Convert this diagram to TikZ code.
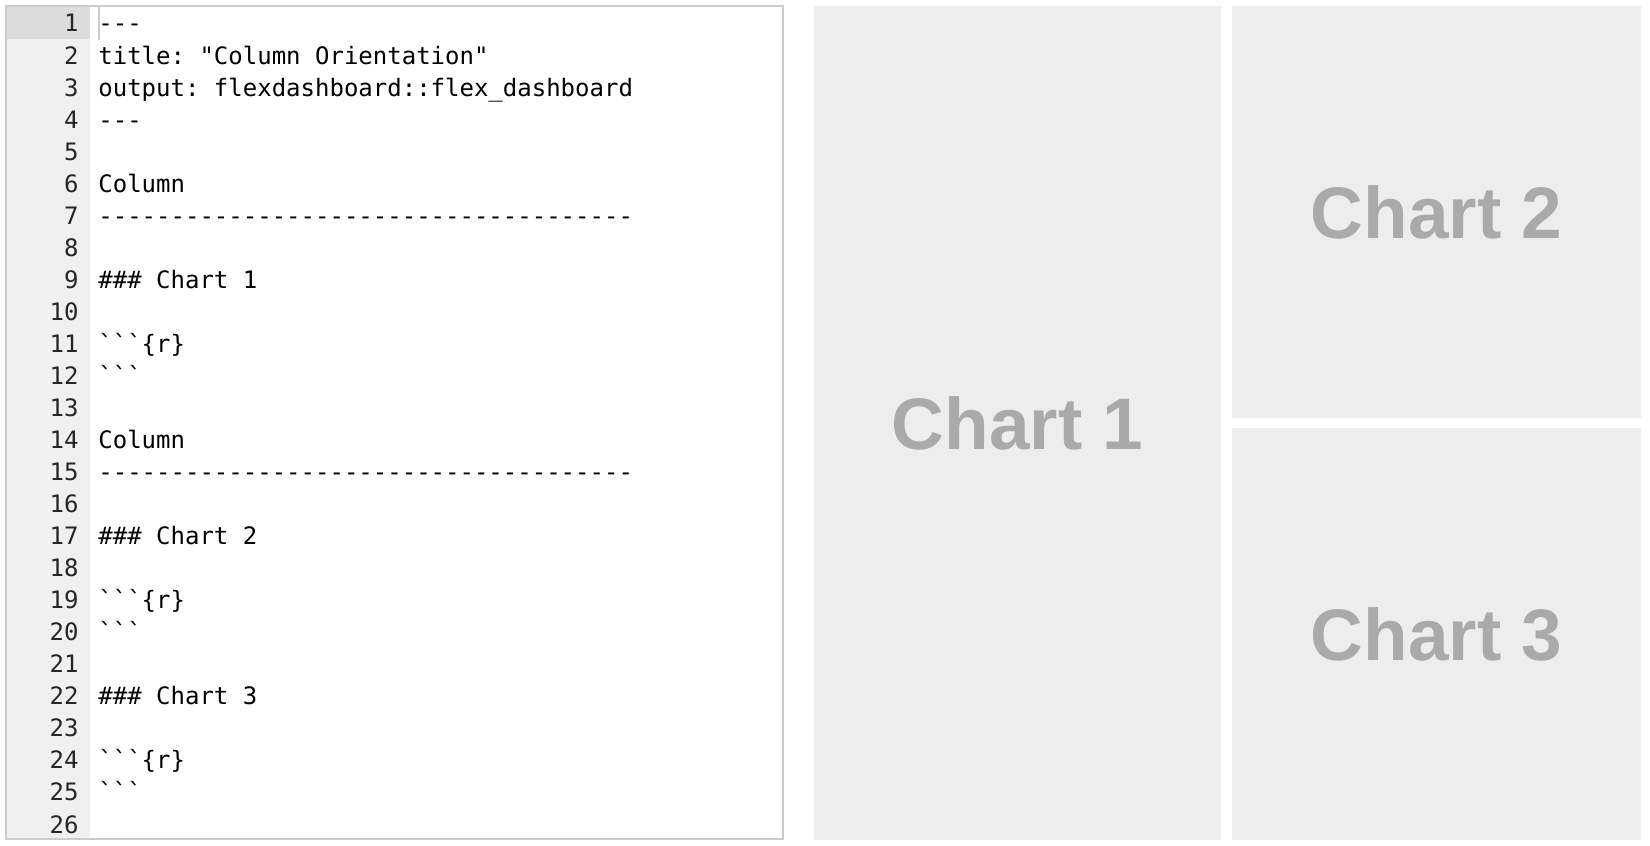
\documentclass[tikz,border=0pt]{standalone}
\usepackage{fontspec}
\setmainfont{Liberation Sans}
\setmonofont{DejaVu Sans Mono}

\definecolor{panelgray}{HTML}{EDEDED}
\definecolor{labelgray}{HTML}{AAAAAA}
\definecolor{framegray}{HTML}{CCCCCC}
\definecolor{guttergray}{HTML}{F0F0F0}
\definecolor{activegray}{HTML}{DCDCDC}

\begin{document}
\begin{tikzpicture}[x=0.5pt, y=-0.5pt,
	codeline/.style={anchor=base west, inner sep=0pt, text=black, font=\ttfamily\fontsize{12}{14}\selectfont},
	lineno/.style={anchor=base east, inner sep=0pt, text=black!85, font=\ttfamily\fontsize{12}{14}\selectfont},
	panel/.style={rectangle, fill=panelgray, inner sep=0pt, text=labelgray, font=\bfseries\fontsize{36.5}{40}\selectfont}]

		\useasboundingbox (0,0) rectangle (1650,846);

		% editor
		\fill[guttergray] (7,7) rectangle (90,838);
		\fill[activegray] (7,7) rectangle (90,39);
		\fill[framegray] (97.5,7) rectangle (100,40);
		\node[rectangle, draw=framegray, line width=1pt, minimum width=388.5pt, minimum height=416.5pt, inner sep=0pt] (editor) at (394.5,422.5) {};

		\foreach \n in {1,...,26}
			\node[lineno] (num\n) at (79,{32+(\n-1)*32.04}) {\n};

		\foreach \n/\code in {1/{---}, 2/{title: "Column Orientation"}, 3/{output: flexdashboard::flex\_dashboard}, 4/{---},
			6/{Column}, 7/{-------------------------------------}, 9/{\#\#\# Chart 1}, 11/{```\{r\}}, 12/{```},
			14/{Column}, 15/{-------------------------------------}, 17/{\#\#\# Chart 2}, 19/{```\{r\}}, 20/{```},
			22/{\#\#\# Chart 3}, 24/{```\{r\}}, 25/{```}}
			\node[codeline] (code\n) at (98,{32+(\n-1)*32.04}) {\code};

		% dashboard
		\node[panel, minimum width=203.5pt, minimum height=417pt] (chart1) at (1017.5,423) {Chart 1};
		\node[panel, minimum width=204.5pt, minimum height=206pt] (chart2) at (1436.5,212) {Chart 2};
		\node[panel, minimum width=204.5pt, minimum height=206pt] (chart3) at (1436.5,634) {Chart 3};
    \end{tikzpicture}
\end{document}
